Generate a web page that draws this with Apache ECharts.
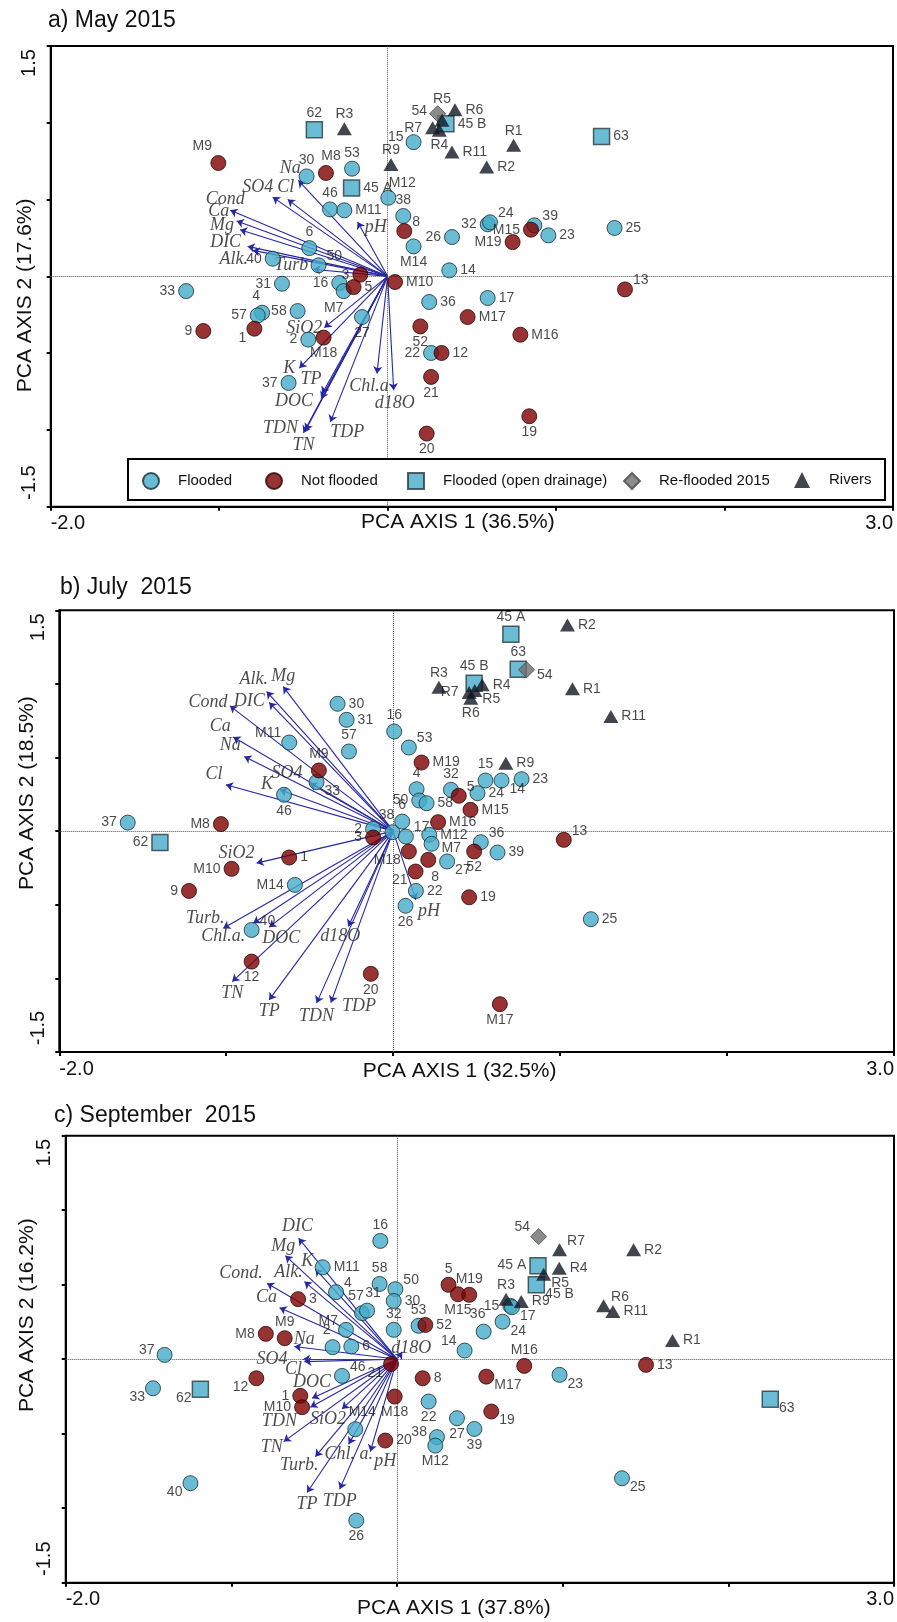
<!DOCTYPE html>
<html>
<head>
<meta charset="utf-8">
<script src="https://cdn.jsdelivr.net/npm/echarts@6/dist/echarts.min.js"></script>
<style>
html,body{margin:0;padding:0;background:#fff}
#chart{width:897px;height:1622px}
</style>
</head>
<body>
<div id="chart"></div>
<script>
// ---------------- site scores: [axis1, axis2, site] ----------------
// May 2015
const mayFlooded = [
  [-0.481,0.651,'30'],[-0.211,0.701,'53'],[0.004,0.512,'M12'],[-0.342,0.436,'46'],[-0.257,0.430,'M11'],
  [0.093,0.393,'38'],[0.154,0.874,'15'],[0.154,0.195,'M14'],[0.382,0.256,'26'],[0.594,0.339,'32'],
  [0.608,0.352,'24'],[0.871,0.332,'39'],[0.954,0.267,'23'],[1.347,0.315,'25'],[0.366,0.039,'14'],
  [-0.465,0.184,'6'],[-0.682,0.115,'40'],[-0.410,0.072,'50'],[-0.627,-0.048,'31'],[-1.196,-0.096,'33'],
  [-0.287,-0.043,'16'],[-0.261,-0.096,'M7'],[-0.745,-0.237,'4'],[-0.771,-0.254,'57'],[-0.534,-0.226,'58'],
  [-0.152,-0.265,'27'],[-0.471,-0.412,'2'],[-0.588,-0.694,'37'],[0.247,-0.167,'36'],[0.594,-0.141,'17'],
  [0.258,-0.499,'22']
];
const mayNotFlooded = [
  [-1.005,0.738,'M9'],[-0.366,0.673,'M8'],[0.099,0.295,'8'],[0.044,-0.037,'M10'],[-0.162,0.011,'3'],
  [-0.202,-0.070,'5'],[-1.094,-0.356,'9'],[-0.791,-0.341,'1'],[-0.380,-0.399,'M18'],[0.851,0.304,'M15'],
  [0.742,0.223,'M19'],[1.409,-0.085,'13'],[0.475,-0.265,'M17'],[0.194,-0.326,'52'],[0.788,-0.380,'M16'],
  [0.320,-0.499,'12'],[0.258,-0.655,'21'],[0.841,-0.911,'19'],[0.232,-1.024,'20']
];
const mayOpenDrainage = [[-0.435,0.955,'62'],[-0.214,0.575,'45 A'],[0.346,0.994,'45 B'],[1.270,0.911,'63']];
const mayReflooded = [[0.297,1.059,'54']];
const mayRivers = [
  [-0.257,0.961,'R3'],[0.020,0.729,'R9'],[0.323,1.016,'R5'],[0.400,1.085,'R6'],[0.267,0.968,'R7'],
  [0.307,0.951,'R4'],[0.382,0.809,'R11'],[0.748,0.853,'R1'],[0.588,0.712,'R2']
];

// July 2015
const julFlooded = [
  [-0.333,0.865,'30'],[-0.279,0.756,'31'],[0.006,0.677,'16'],[-0.265,0.541,'57'],[-0.623,0.602,'M11'],
  [-0.459,0.333,'33'],[-0.654,0.247,'46'],[0.094,0.568,'53'],[-1.590,0.058,'37'],[-0.589,-0.365,'M14'],
  [-0.848,-0.671,'40'],[-0.120,0.016,'2'],[-0.004,-0.007,'38'],[0.054,0.065,'6'],[0.076,-0.037,'17'],
  [0.216,-0.025,'M12'],[0.230,-0.086,'M7'],[0.525,-0.075,'36'],[0.625,-0.145,'39'],[0.323,-0.206,'27'],
  [0.136,-0.406,'22'],[0.074,-0.507,'26'],[1.184,-0.598,'25'],[0.553,0.344,'15'],[0.649,0.344,'14'],
  [0.769,0.353,'23'],[0.140,0.285,'4'],[0.346,0.281,'32'],[0.505,0.258,'24'],[0.156,0.208,'50'],
  [0.200,0.190,'58']
];
const julNotFlooded = [
  [-0.445,0.412,'M9'],[-1.032,0.048,'M8'],[-0.623,-0.179,'1'],[-0.968,-0.256,'M10'],[-1.223,-0.406,'9'],
  [-0.848,-0.886,'12'],[-0.134,-0.969,'20'],[-0.120,-0.043,'3'],[0.269,0.061,'M16'],[0.463,0.145,'M15'],
  [0.485,-0.138,'52'],[1.022,-0.059,'13'],[0.094,-0.138,'M18'],[0.210,-0.195,'8'],[0.134,-0.274,'21'],
  [0.455,-0.449,'19'],[0.639,-1.175,'M17'],[0.170,0.466,'M19'],[0.393,0.240,'5']
];
const julOpenDrainage = [[0.705,1.338,'45 A'],[0.749,1.100,'63'],[0.485,1.005,'45 B'],[-1.397,-0.077,'62']];
const julReflooded = [[0.799,1.096,'54']];
const julRivers = [
  [1.044,1.401,'R2'],[0.274,0.978,'R3'],[0.533,0.994,'R4'],[0.455,0.942,'R7'],[0.489,0.955,'R5'],
  [0.465,0.903,'R6'],[1.074,0.967,'R1'],[1.304,0.779,'R11'],[0.675,0.462,'R9']
];

// September 2015
const sepFlooded = [
  [-0.101,0.794,'16'],[-0.449,0.617,'M11'],[-0.105,0.505,'58'],[-0.010,0.470,'50'],[-0.368,0.450,'4'],
  [-0.020,0.391,'30'],[-0.211,0.309,'57'],[-0.181,0.326,'31'],[-0.020,0.197,'32'],[-0.308,0.197,'M7'],
  [-0.389,0.081,'2'],[-0.276,0.085,'6'],[-1.403,0.029,'37'],[0.130,0.224,'53'],[-1.473,-0.195,'33'],
  [-0.332,-0.112,'46'],[-0.252,-0.470,'M14'],[-1.247,-0.832,'40'],[-0.246,-1.083,'26'],[0.191,-0.284,'22'],
  [0.362,-0.396,'27'],[0.467,-0.468,'39'],[0.241,-0.523,'38'],[0.231,-0.580,'M12'],[1.358,-0.799,'25'],
  [0.981,-0.105,'23'],[0.684,0.358,'15'],[0.694,0.349,'17'],[0.637,0.252,'24'],[0.523,0.185,'36'],
  [0.408,0.058,'14']
];
const sepNotFlooded = [
  [-0.597,0.403,'3'],[-0.792,0.170,'M8'],[-0.678,0.141,'M9'],[-0.849,-0.128,'12'],[-0.584,-0.246,'1'],
  [-0.573,-0.322,'M10'],[-0.036,-0.032,'21'],[-0.014,-0.251,'M18'],[-0.071,-0.546,'20'],[0.155,-0.128,'8'],
  [0.539,-0.117,'M17'],[0.768,-0.045,'M16'],[1.503,-0.038,'13'],[0.569,-0.351,'19'],[0.311,0.499,'5'],
  [0.368,0.436,'M15'],[0.436,0.432,'M19'],[0.171,0.230,'52']
];
const sepOpenDrainage = [[-1.187,-0.201,'62'],[2.253,-0.268,'63'],[0.851,0.628,'45 A'],[0.841,0.499,'45 B']];
const sepReflooded = [[0.855,0.823,'54']];
const sepRivers = [
  [0.981,0.734,'R7'],[1.428,0.734,'R2'],[0.979,0.611,'R4'],[0.885,0.570,'R5'],[0.658,0.403,'R3'],
  [0.750,0.387,'R9'],[1.247,0.358,'R6'],[1.303,0.320,'R11'],[1.663,0.125,'R1']
];

// ---------------- variable loadings: [variable, axis1, axis2] ----------------
const mayVars = [
  ['Na',-0.530,0.625],['Cl',-0.593,0.501],['SO4',-0.682,0.516],['Cond',-0.934,0.430],['Ca',-0.896,0.360],
  ['Mg',-0.876,0.304],['DIC',-0.831,0.195],['Alk.',-0.801,0.169],['Turb',-0.441,0.046],['pH',-0.178,0.354],
  ['SiO2',-0.376,-0.334],['K',-0.524,-0.597],['TP',-0.389,-0.764],['DOC',-0.395,-0.796],['TDN',-0.488,-1.003],
  ['TN',-0.500,-1.020],['TDP',-0.340,-0.949],['Chl.a',-0.063,-0.633],['d18O',0.036,-0.742]
];
const julVars = [
  ['Mg',-0.659,0.982],['Alk.',-0.758,0.948],['DIC',-0.743,0.874],['Cond',-0.978,0.851],['Ca',-0.958,0.639],
  ['Na',-0.892,0.507],['Cl',-1.002,0.315],['SO4',-0.499,0.326],['K',-0.678,0.281],['SiO2',-0.818,-0.217],
  ['Turb.',-1.018,-0.659],['Chl.a.',-0.838,-0.625],['DOC',-0.743,-0.652],['TN',-0.964,-1.022],['TP',-0.743,-1.146],
  ['TDN',-0.459,-1.168],['TDP',-0.373,-1.165],['d18O',-0.269,-0.648],['pH',0.136,-0.467]
];
const sepVars = [
  ['DIC',-0.594,0.812],['Mg',-0.674,0.695],['K',-0.493,0.606],['Alk.',-0.559,0.521],['Cond.',-0.785,0.510],
  ['Ca',-0.709,0.346],['Na',-0.620,0.085],['SO4',-0.567,0.000],['Cl',-0.559,-0.016],['DOC',-0.513,-0.262],
  ['TDN',-0.523,-0.322],['SiO2',-0.332,-0.334],['TN',-0.684,-0.553],['Turb.',-0.493,-0.654],['Chl. a.',-0.292,-0.570],
  ['pH',-0.161,-0.620],['TP',-0.543,-0.895],['TDP',-0.346,-0.872],['d18O',0.032,0.049]
];

// axis titles and panel headings
const panelTitles = ['a) May 2015', 'b) July  2015', 'c) September  2015'];
const axis1Names = ['PCA AXIS 1 (36.5%)', 'PCA AXIS 1 (32.5%)', 'PCA AXIS 1 (37.8%)'];
const axis2Names = ['PCA AXIS 2 (17.6%)', 'PCA AXIS 2 (18.5%)', 'PCA AXIS 2 (16.2%)'];
const groupNames = ['Flooded', 'Not flooded', 'Flooded (open drainage)', 'Re-flooded 2015', 'Rivers'];

// ---------------- layout ----------------
const grids = [
  {left: 50.7, top: 46, width: 842.3, height: 460.7},
  {left: 59.3, top: 610.3, width: 834.7, height: 441.7},
  {left: 65.7, top: 1135.7, width: 828.3, height: 447}
];
const titleTops = [9, 576, 1104];
const titleLefts = [48, 60, 54];
const xNameGap = [5, 9, 15];
const xNamePad = [[0, 28, 0, 0], [0, 34, 0, 0], [0, 52, 0, 0]];
const yNameGap = [15, 22, 28];
const yNamePad = [[0, 38, 0, 0], [0, 0, 0, 76], [0, 0, 0, 88]];

// label placement of site names
const CODE = {
  r: {position: 'right', distance: 3},
  l: {position: 'left', distance: 3},
  t: {position: 'top', distance: 1},
  b: {position: 'bottom', distance: 1},
  tr: {position: 'right', distance: 0, offset: [0, -9]},
  tl: {position: 'left', distance: 0, offset: [0, -9]},
  br: {position: 'right', distance: 0, offset: [0, 9]},
  bl: {position: 'left', distance: 0, offset: [0, 9]}
};
function labelFor(code) {
  if (Array.isArray(code)) return {position: code[0], distance: 2, offset: [code[1], code[2]]};
  return CODE[code || 'r'];
}
const placeMay = {
  '30':'t','53':'t','M12':['top',14,2],'46':'t','M11':'r','38':'t','15':['left',0,-5],'M14':'b','26':'l','32':'l',
  '24':'tr','39':'tr','23':'r','25':'r','14':'r','6':'t','40':'l','50':'tr','31':'l','33':'l','16':'l',
  'M7':['bottom',-10,0],'4':['top',-6,0],'57':'l','58':'l','27':'b','2':'l','37':'l','36':'r','17':'r','22':'l',
  'M9':['top',-16,0],'M8':['top',5,0],'8':'tr','M10':'r','3':'l','5':'r','9':'l','1':'bl','M18':'b','M15':'l',
  'M19':'l','13':'tr','M17':'r','52':'b','M16':'r','12':'r','21':'b','19':'b','20':'b',
  '62':'t','45 A':'r','45 B':'r','63':'r','54':['left',0,-3],
  'R3':'t','R9':'t','R5':['top',0,-6],'R6':'r','R7':'l','R4':'b','R11':'r','R1':'t','R2':'r'
};
const placeJul = {
  '30':'r','31':'r','16':'t','57':'t','M11':'tl','33':'br','46':'b','53':'tr','37':'l','M14':'l','40':'tr',
  '2':'l','38':['top',-6,0],'6':'t','17':'tr','M12':'r','M7':['right',0,4],'36':'tr','39':'r','27':'br','22':'r',
  '26':'b','25':'r','15':'t','14':'br','23':'r','4':'t','32':'t','24':'r','50':'l','58':'r',
  'M9':'t','M8':'l','1':'r','M10':'l','9':'l','12':'b','20':'b','3':'l','M16':'r','M15':'r','52':'b','13':'tr',
  'M18':'bl','8':['bottom',7,0],'21':'bl','19':'r','M17':'b','M19':'r','5':'tr',
  '45 A':'t','63':'t','45 B':'t','62':'l','54':['right',0,5],
  'R2':'r','R3':'t','R4':'r','R7':'l','R5':'br','R6':'b','R1':'r','R11':'r','R9':'r'
};
const placeSep = {
  '16':'t','M11':'r','58':'t','50':'tr','4':'tr','30':'r','57':['top',-6,0],'31':['top',6,0],'32':'t','M7':'tl',
  '2':['top',-6,0],'6':'r','37':['left',0,-5],'53':'t','33':'bl','46':'tr','M14':['top',7,0],'40':'bl','26':'b',
  '22':'b','27':'b','39':'b','38':['left',0,-5],'M12':'b','25':'br','23':'br','15':'l','17':'br','24':'br',
  '36':['top',-6,0],'14':'tl',
  '3':'r','M8':'l','M9':'t','12':'bl','1':'l','M10':'l','21':'bl','M18':'b','20':'r','8':'r','M17':'br','M16':'t',
  '13':'r','19':'br','5':'t','M15':'b','M19':'t','52':'r',
  '62':'bl','63':'br','45 A':'l','45 B':'br','54':'tl',
  'R7':'tr','R2':'r','R4':'r','R5':'br','R3':'t','R9':'r','R6':'tr','R11':'r','R1':'r'
};

// offsets of variable names from arrow heads
const varOffMay = {
  'Na':[-8,-12],'Cl':[-2,-12],'SO4':[-15,-10],'Cond':[-5,-11],'Ca':[-18,-10],'Mg':[-18,-4],'DIC':[-22,-4],
  'Alk.':[-19,9],'Turb':[-22,-4],'pH':[18,5],'SiO2':[-20,1],'K':[-10,0],'TP':[-11,-14],'DOC':[-27,3],
  'TDN':[-25,-2],'TN':[0,12],'TDP':[17,10],'Chl.a':[-8,13],'d18O':[1,13]
};
const varOffJul = {
  'Mg':[0,-10],'Alk.':[-13,-12],'DIC':[-20,-1],'Cond':[-22,-4],'Ca':[-13,-11],'Na':[-14,-11],'Cl':[-12,-11],
  'SO4':[-23,-10],'K':[-13,-6],'SiO2':[-20,-10],'Turb.':[-18,-10],'Chl.a.':[-30,13],'DOC':[12,11],'TN':[0,12],
  'TP':[0,11],'TDN':[0,13],'TDP':[28,4],'d18O':[-8,10],'pH':[13,11]
};
const varOffSep = {
  'DIC':[-1,-12],'Mg':[-2,-9],'K':[-8,-8],'Alk.':[-16,-9],'Cond.':[-26,-10],'Ca':[-13,-10],'Na':[10,-7],
  'SO4':[-31,0],'Cl':[-11,8],'DOC':[0,-16],'TDN':[-31,14],'SiO2':[-14,10],'TN':[-12,6],'Turb.':[-16,9],
  'Chl. a.':[0,10],'pH':[15,10],'TP':[0,12],'TDP':[0,12],'d18O':[9,-4]
};

const panels = [
  {groups: [mayFlooded, mayNotFlooded, mayOpenDrainage, mayReflooded, mayRivers], vars: mayVars, place: placeMay, varOff: varOffMay},
  {groups: [julFlooded, julNotFlooded, julOpenDrainage, julReflooded, julRivers], vars: julVars, place: placeJul, varOff: varOffJul},
  {groups: [sepFlooded, sepNotFlooded, sepOpenDrainage, sepReflooded, sepRivers], vars: sepVars, place: placeSep, varOff: varOffSep}
];

// ---------------- styles ----------------
const SANS = '"Liberation Sans", Arial, sans-serif';
const SERIF = '"Liberation Serif", "Times New Roman", serif';
const CYAN = '#43abc8';
const groupStyle = {
  'Flooded': {symbol: 'circle', symbolSize: 15, itemStyle: {color: CYAN, borderColor: '#1c2c34', borderWidth: 1}},
  'Not flooded': {symbol: 'circle', symbolSize: 15, itemStyle: {color: '#7d0000', borderColor: '#2a0808', borderWidth: 1}},
  'Flooded (open drainage)': {symbol: 'rect', symbolSize: 16, itemStyle: {color: CYAN, borderColor: '#2c3a40', borderWidth: 1.5}},
  'Re-flooded 2015': {symbol: 'diamond', symbolSize: 16, itemStyle: {color: '#6e6e6e', borderColor: '#474747', borderWidth: 1}},
  'Rivers': {symbol: 'triangle', symbolSize: [15, 13], itemStyle: {color: '#111722'}}
};
// drawing order: circles first, then diamond, squares and triangles on top
const drawOrder = [0, 1, 3, 2, 4];

const xAxes = [], yAxes = [], series = [], titles = [], graphics = [];

panels.forEach((p, i) => {
  const g = grids[i];
  titles.push({
    text: panelTitles[i], left: titleLefts[i], top: titleTops[i], padding: 0,
    textStyle: {fontSize: 23, fontWeight: 'normal', color: '#111', fontFamily: SANS}
  });
  xAxes.push({
    gridIndex: i, type: 'value', min: -2, max: 3, interval: 1,
    name: axis1Names[i], nameLocation: 'middle', nameGap: xNameGap[i], nameMoveOverlap: false,
    nameTextStyle: {fontSize: 21, color: '#111', fontFamily: SANS, padding: xNamePad[i]},
    axisLine: {onZero: false, lineStyle: {color: '#000', width: 2}},
    axisTick: {length: 4, lineStyle: {color: '#000', width: 2}},
    splitLine: {show: false},
    axisLabel: {
      formatter: v => (v === -2 ? '-2.0' : v === 3 ? '3.0' : ''),
      alignMinLabel: 'left', alignMaxLabel: 'right',
      fontSize: 20, color: '#111', fontFamily: SANS, margin: 7
    }
  });
  yAxes.push({
    gridIndex: i, type: 'value', min: -1.5, max: 1.5, interval: 0.5,
    name: axis2Names[i], nameLocation: 'middle', nameGap: yNameGap[i], nameMoveOverlap: false,
    nameTextStyle: {fontSize: 21, color: '#111', fontFamily: SANS, padding: yNamePad[i]},
    axisLine: {onZero: false, lineStyle: {color: '#000', width: 2}},
    axisTick: {length: 4, lineStyle: {color: '#000', width: 2}},
    splitLine: {show: false},
    axisLabel: {show: false}
  });

  // dotted zero lines
  series.push({
    type: 'scatter', xAxisIndex: i, yAxisIndex: i, z: 1, silent: true,
    symbolSize: 0, data: [[0, 0]],
    markLine: {
      silent: true, symbol: ['none', 'none'], label: {show: false},
      lineStyle: {type: 'dotted', color: '#555', width: 1},
      data: [{xAxis: 0}, {yAxis: 0}]
    }
  });

  // loading arrows
  series.push({
    type: 'lines', coordinateSystem: 'cartesian2d', xAxisIndex: i, yAxisIndex: i, z: 3, silent: true,
    symbol: ['none', 'arrow'], symbolSize: 7,
    lineStyle: {color: '#2626a6', width: 1.1, opacity: 1},
    data: p.vars.map(v => ({coords: [[0, 0], [v[1], v[2]]]}))
  });

  // variable names at arrow heads
  series.push({
    type: 'scatter', xAxisIndex: i, yAxisIndex: i, z: 4, silent: true,
    symbolSize: 1, itemStyle: {color: 'rgba(0,0,0,0)'},
    label: {
      show: true, position: 'inside', formatter: '{b}',
      fontFamily: SERIF, fontStyle: 'italic', fontSize: 18, color: '#1e1e1e'
    },
    data: p.vars.map(v => ({name: v[0], value: [v[1], v[2]], label: {offset: p.varOff[v[0]] || [0, 0]}}))
  });

  // site groups
  drawOrder.forEach(k => {
    const name = groupNames[k];
    const st = groupStyle[name];
    series.push({
      type: 'scatter', name: name, xAxisIndex: i, yAxisIndex: i, z: 5 + k,
      symbol: st.symbol, symbolSize: st.symbolSize, itemStyle: st.itemStyle,
      label: {show: true, formatter: '{b}', fontSize: 14, color: '#1a1a1a', fontFamily: SANS},
      data: p.groups[k].map(d => ({name: d[2], value: [d[0], d[1]], label: labelFor(p.place[d[2]])}))
    });
  });

  // end tick values of the vertical axis
  graphics.push(
    {type: 'text', x: g.left - 21, y: g.top + 17, rotation: Math.PI / 2,
     style: {text: '1.5', font: '20px ' + SANS, fill: '#111', align: 'center', verticalAlign: 'middle'}},
    {type: 'text', x: g.left - 21, y: g.top + g.height - 24, rotation: Math.PI / 2,
     style: {text: '-1.5', font: '20px ' + SANS, fill: '#111', align: 'center', verticalAlign: 'middle'}}
  );
});

// legend frame in the first panel
graphics.push({
  type: 'rect', z: 10, shape: {x: 128, y: 459, width: 757, height: 41},
  style: {fill: '#fff', stroke: '#000', lineWidth: 2}
});
const legendLefts = [142, 265, 407, 623, 794];
const legends = groupNames.map((name, j) => ({
  data: [name], left: legendLefts[j], top: 472, padding: 0, z: 20,
  itemWidth: 16, itemHeight: 16, selectedMode: false,
  textStyle: {fontSize: 15, color: '#111', fontFamily: SANS, padding: [0, 0, 0, 14]}
}));

const chart = echarts.init(document.getElementById('chart'), null, {renderer: 'canvas'});
chart.setOption({
  backgroundColor: '#fff',
  animation: false,
  title: titles,
  grid: grids.map(g => Object.assign({show: true, borderColor: '#000', borderWidth: 2, backgroundColor: 'transparent'}, g)),
  xAxis: xAxes,
  yAxis: yAxes,
  legend: legends,
  graphic: graphics,
  series: series
});
</script>
</body>
</html>
